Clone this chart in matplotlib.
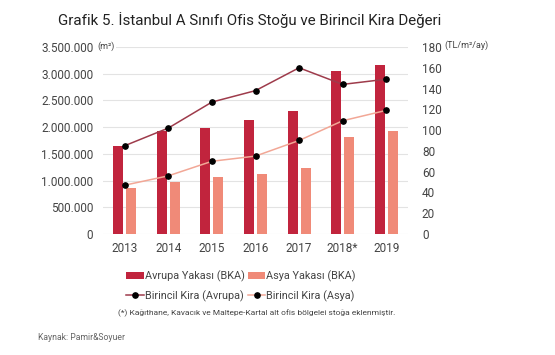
import matplotlib.pyplot as plt
import matplotlib.ticker as mticker
import numpy as np

plt.rcParams['font.family'] = ['Roboto', 'DejaVu Sans']

years = ["2013", "2014", "2015", "2016", "2017", "2018*", "2019"]
stock_avrupa = [1650000, 1920000, 1985000, 2140000, 2310000, 3050000, 3160000]
stock_asya = [860000, 980000, 1060000, 1130000, 1230000, 1820000, 1920000]
rent_avrupa = [85, 102, 127, 138, 160, 144, 149]
rent_asya = [47, 56, 70, 75, 90, 109, 119]

C_AVR = "#c1243d"
C_ASY = "#f08a78"
C_LAVR = "#9e3b4b"
C_LASY = "#f2a796"
TXT = "#444444"
GRID = "#e3e3e3"

fig = plt.figure(figsize=(5.55, 3.55), dpi=100)
ax = fig.add_axes([103 / 555, 1 - 234 / 355, 305 / 555, 187 / 355])
ax2 = ax.twinx()

x = np.arange(len(years))
w = 0.23
b1 = ax.bar(x - 0.15, stock_avrupa, w, color=C_AVR, zorder=2)
b2 = ax.bar(x + 0.15, stock_asya, w, color=C_ASY, zorder=2)

l1, = ax2.plot(x, rent_avrupa, color=C_LAVR, lw=1.1, marker="o", ms=3.8,
               mfc="black", mec="black", zorder=3)
l2, = ax2.plot(x, rent_asya, color=C_LASY, lw=1.1, marker="o", ms=3.8,
               mfc="black", mec="black", zorder=3)

ax.set_xlim(-0.5, 6.5)
ax.set_ylim(0, 3500000)
ax.set_yticks(np.arange(0, 3500001, 500000))
ax.yaxis.set_major_formatter(mticker.FuncFormatter(lambda v, p: f"{int(v):,}".replace(",", ".")))
ax2.set_ylim(0, 180)
ax2.set_yticks(np.arange(0, 181, 20))

ax.grid(axis="y", color=GRID, lw=0.8, zorder=0)
ax.set_axisbelow(True)
for a in (ax, ax2):
    for s in a.spines.values():
        s.set_visible(False)
    a.tick_params(length=0, labelsize=8.5, colors=TXT)
ax.tick_params(axis="y", pad=7)
ax2.tick_params(axis="y", pad=10)
ax.tick_params(axis="x", pad=6)
ax.set_xticks(x)
ax.set_xticklabels(years)

# unit labels, the left one sits over the top gridline
fig.text(97 / 555, 1 - 46 / 355, "(m²)", fontsize=6.5, color=TXT, va="center",
         bbox=dict(facecolor="white", edgecolor="none", pad=1.5))
fig.text(444 / 555, 1 - 45 / 355, "(TL/m²/ay)", fontsize=6.5, color=TXT, va="center")

fig.text(58 / 555, 1 - 20 / 355, "Grafik 5. İstanbul A Sınıfı Ofis Stoğu ve Birincil Kira Değeri",
         fontsize=10.9, color="#222222", va="center")

fig.legend([b1, l1, b2, l2],
           ["Avrupa Yakası (BKA)", "Birincil Kira (Avrupa)",
            "Asya Yakası (BKA)", "Birincil Kira (Asya)"],
           ncol=2, loc="upper left", bbox_to_anchor=(121 / 555, 1 - 265 / 355),
           frameon=False, fontsize=7.8, handlelength=1.6, handletextpad=0.1,
           columnspacing=0.3, labelspacing=0.75, labelcolor=TXT, borderpad=0)

fig.text(118 / 555, 1 - 313 / 355,
         "(*) Kağıthane, Kavacık ve Maltepe-Kartal alt ofis bölgelei stoğa eklenmiştir.",
         fontsize=6.0, color=TXT, va="center")
fig.text(38 / 555, 1 - 338 / 355, "Kaynak: Pamir&Soyuer", fontsize=6.2, color="#666666", va="center")

fig.savefig("out.png", dpi=100)
